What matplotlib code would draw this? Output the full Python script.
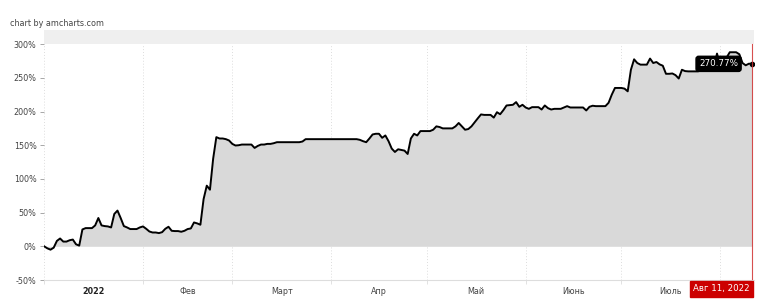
import matplotlib
matplotlib.use("Agg")
import matplotlib.pyplot as plt
import matplotlib.dates as mdates
import pandas as pd
import numpy as np

# ---- data ----
start_date = "2022-01-01"
values = [
    0, -3, -5, -2, 8, 11.6, 7, 7, 9, 10, 3, 1, 25, 27, 27, 27, 31, 42, 31, 30,
    29.5, 28, 48, 53, 42, 30, 28, 25.6, 25.6, 25.6, 28, 29.5, 26, 22, 20.5, 20.5,
    19.6, 21, 26, 29, 23, 22.6, 22.6, 21.6, 23, 25.6, 26.5, 35.4, 34, 32,
    70, 90, 84, 130, 162, 160, 160, 159, 157, 152, 149.6, 150, 151, 151, 151, 151,
    146, 149, 151, 151, 152, 152, 153,
    154.5, 154.5, 154.5, 154.5, 154.5, 154.5, 154.5, 154.5, 155.5,
    159, 159, 159, 159, 159, 159, 159, 159, 159, 159, 159, 159, 159, 159, 159, 159, 159,
    158, 156, 154.5, 160, 166, 167, 167, 161, 164.5, 156, 145, 140, 144, 143, 142,
    137, 160, 167, 164.5, 171, 171, 171, 171, 173, 178, 177, 175, 175, 175, 175,
    178, 183, 178, 173, 174, 178, 184, 190, 195.7, 195, 195, 195, 191, 199, 196,
    202, 209, 209.5, 210, 214, 207, 210, 206, 204, 206.5, 206.5, 206.5, 203, 209,
    205, 203, 204, 204, 204, 206, 208, 206, 206, 206, 206, 206, 201.6, 207, 208.6,
    208, 208, 208, 208, 213, 225, 235, 235, 235, 234, 230, 262, 277.5, 272, 269.6,
    269.6, 269.6, 278.6, 272, 273.5, 270, 268, 256, 256, 256.5, 254, 249, 262, 260,
    259.6, 259.6, 259.6, 259.6, 261, 262, 262, 263, 265, 286, 268, 272, 280, 288,
    288, 288, 285, 272, 268.6, 271, 270.77,
]
month_starts = ["2022-01-01", "2022-02-01", "2022-03-01", "2022-04-01",
                "2022-05-01", "2022-06-01", "2022-07-01", "2022-08-01"]
month_labels = ["2022", "Фев", "Март", "Апр", "Май", "Июнь", "Июль"]
y_ticks = [-50, 0, 50, 100, 150, 200, 250, 300]
cursor_label = "Авг 11, 2022"

dates = pd.date_range(start_date, periods=len(values), freq="D")
vals = np.array(values, dtype=float)

# ---- figure ----
plt.rcParams["font.family"] = ["DejaVu Sans"]
fig = plt.figure(figsize=(7.58, 3.08), dpi=100)
ax = fig.add_axes([43.5 / 758, 1 - 280 / 308, (754 - 43.5) / 758, (280 - 30) / 308])

x0 = mdates.date2num(pd.Timestamp(start_date)) - 0.2
x1 = mdates.date2num(pd.Timestamp(start_date)) + 222.6
ax.set_xlim(x0, x1)
ax.set_ylim(-50, 321)

# top band above max
ax.axhspan(300, 321, color="#efefef", zorder=0, lw=0)

# month gridlines
ms = pd.to_datetime(month_starts)
for d in ms:
    ax.axvline(d, ymin=0, ymax=350 / 371, color="#dddddd", lw=0.7,
               linestyle=(0, (1, 2)), zorder=1)

# area + line
ax.fill_between(dates, vals, 0, color="#d9d9d9", lw=0, zorder=2)
ax.plot(dates, vals, color="#000000", lw=1.4, zorder=3, solid_joinstyle="round")
ax.plot(dates[-1:], vals[-1:], "o", color="#000000", ms=3, zorder=4)

# cursor line
ax.axvline(dates[-1], ymin=0, ymax=350 / 371, color="#d03030", lw=0.8,
           alpha=0.85, zorder=5)

# tooltip
ax.annotate(f"{vals[-1]:.2f}%", xy=(dates[-1], vals[-1]), xytext=(-14, 0),
            textcoords="offset pixels", ha="right", va="center",
            color="white", fontsize=6.3, zorder=6,
            bbox=dict(boxstyle="round,pad=0.35,rounding_size=0.3", fc="black", ec="black"))

# axes styling
for s in ["top", "right", "left"]:
    ax.spines[s].set_visible(False)
ax.spines["bottom"].set_color("#dddddd")
ax.spines["bottom"].set_linewidth(0.8)

ax.set_yticks(y_ticks)
ax.set_yticklabels([f"{v}%" for v in y_ticks])
ax.tick_params(axis="y", length=3, width=0.6, color="#999999", labelsize=5.8,
               labelcolor="#444444", pad=2)

ax.set_xticks(mdates.date2num(ms))
ax.set_xticklabels([])
ax.tick_params(axis="x", which="major", length=3, width=0.6, color="#dddddd")

mids = [mdates.date2num(ms[i]) + (mdates.date2num(ms[i + 1]) - mdates.date2num(ms[i])) / 2
        for i in range(len(month_labels))]
ax.set_xticks(mids, minor=True)
ax.set_xticklabels(month_labels, minor=True)
ax.tick_params(axis="x", which="minor", length=0, labelsize=5.8,
               labelcolor="#444444", pad=5)
for lbl in ax.get_xticklabels(minor=True):
    if lbl.get_text() == "2022":
        lbl.set_fontweight("bold")
        lbl.set_color("#222222")

# cursor date label
ax.annotate(cursor_label, xy=(1.0, 0.0), xycoords="axes fraction",
            xytext=(-4, -9), textcoords="offset pixels", ha="right", va="center",
            color="white", fontsize=6.2, zorder=7, annotation_clip=False,
            bbox=dict(boxstyle="square,pad=0.4", fc="#cc0000", ec="#cc0000"))

fig.text(10 / 758, 1 - 23 / 308, "chart by amcharts.com", fontsize=5.8,
         color="#444444", va="center", ha="left")

fig.savefig("out.png", dpi=100)
